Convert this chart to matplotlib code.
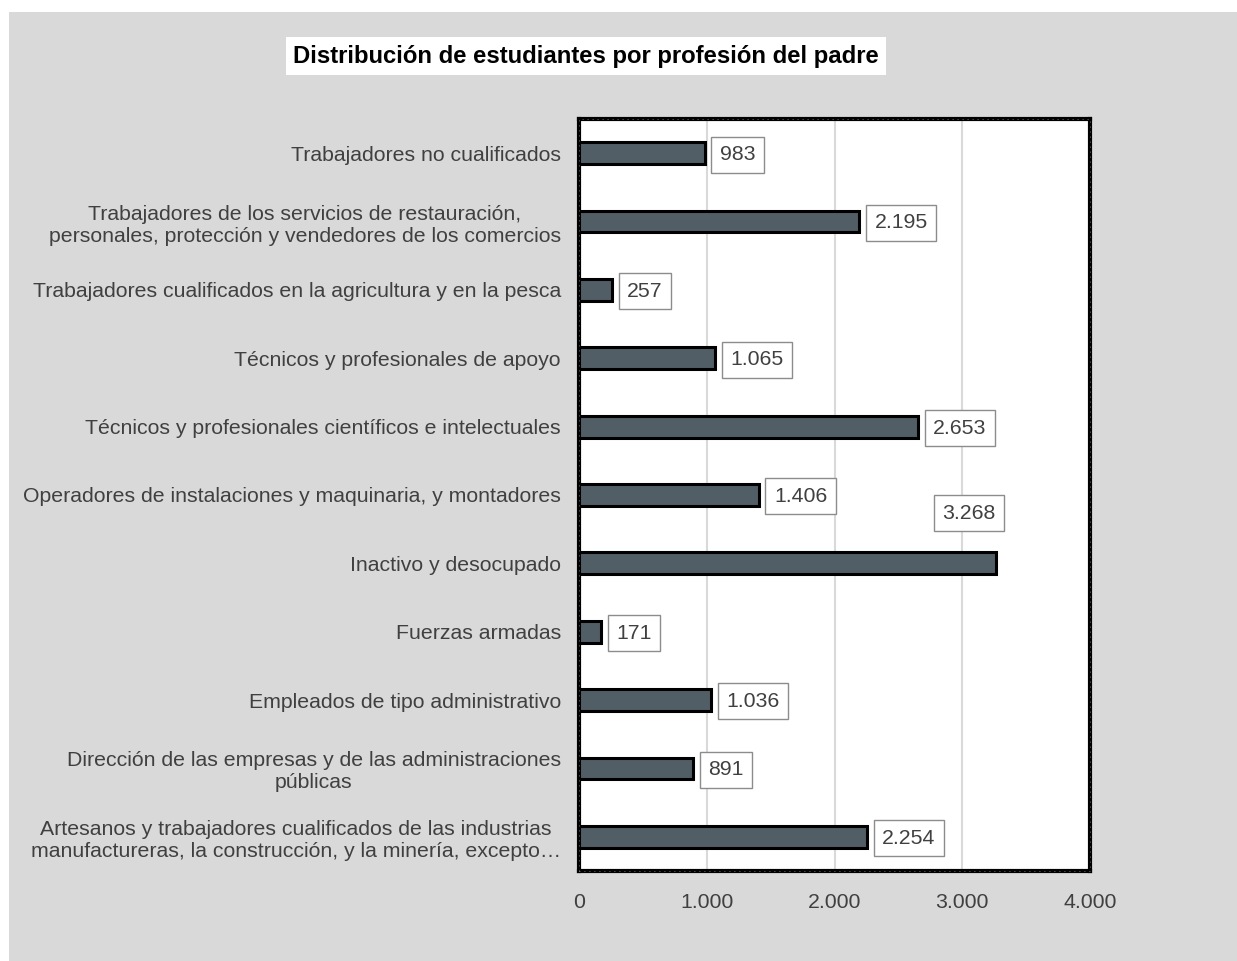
import matplotlib
matplotlib.use('Agg')
import matplotlib.pyplot as plt
from matplotlib.patches import Rectangle

# Data (bottom to top, as drawn)
categories = [
    'Artesanos y trabajadores cualificados de las industrias\nmanufactureras, la construcción, y la minería, excepto…',
    'Dirección de las empresas y de las administraciones\npúblicas',
    'Empleados de tipo administrativo',
    'Fuerzas armadas',
    'Inactivo y desocupado',
    'Operadores de instalaciones y maquinaria, y montadores',
    'Técnicos y profesionales científicos e intelectuales',
    'Técnicos y profesionales de apoyo',
    'Trabajadores cualificados en la agricultura y en la pesca',
    'Trabajadores de los servicios de restauración,\npersonales, protección y vendedores de los comercios',
    'Trabajadores no cualificados',
]
values = [2254, 891, 1036, 171, 3268, 1406, 2653, 1065, 257, 2195, 983]
x_ticks = [0, 1000, 2000, 3000, 4000]

plt.rcParams['font.family'] = ['Liberation Sans', 'DejaVu Sans']
text_color = '#404040'
bg = '#d9d9d9'
fs = 15.3

fig = plt.figure(figsize=(12.37, 9.61), dpi=100, facecolor='white')
# gray chart area
fig.patches.append(Rectangle((9 / 1237, 0), 1, 1 - 12 / 961, transform=fig.transFigure,
                             facecolor=bg, edgecolor='none', zorder=-10))

ax = fig.add_axes([579 / 1237, 1 - 871 / 961, (1090 - 579) / 1237, (871 - 119) / 961])
ax.set_facecolor('white')

ypos = list(range(len(categories)))
ax.barh(ypos, values, height=0.32, color='#525e66', edgecolor='black',
        linewidth=2.2, zorder=3)

ax.set_xlim(0, 4000)
ax.set_ylim(-0.5, len(categories) - 0.5)
ax.set_xticks(x_ticks)
ax.set_xticklabels([f'{v:,}'.replace(',', '.') for v in x_ticks])
ax.set_yticks(ypos)
ax.set_yticklabels(categories)
ax.tick_params(axis='both', length=0, labelsize=fs, colors=text_color)
ax.tick_params(axis='y', pad=13)
ax.tick_params(axis='x', pad=16)
for lab in ax.get_yticklabels():
    lab.set_horizontalalignment('right')
    lab.set_multialignment('center')

ax.xaxis.grid(True, color='#d9d9d9', linewidth=1.5, zorder=0)
ax.set_axisbelow(True)

for s in ax.spines.values():
    s.set_linewidth(3)
    s.set_color('black')
# dotted pattern on the frame
ax.add_patch(Rectangle((0, 0), 1, 1, transform=ax.transAxes, fill=False,
                       edgecolor='#9a9a9a', linewidth=0.6, linestyle=(0, (1, 5)),
                       clip_on=False, zorder=6))

box = dict(boxstyle='square,pad=0.4', facecolor='white', edgecolor='#8c8c8c', linewidth=1)
for y, v in zip(ypos, values):
    label = f'{v:,}'.replace(',', '.')
    if v == max(values):
        ax.annotate(label, xy=(v, y), xytext=(-20, 36), textcoords='offset points',
                    ha='center', va='center', fontsize=fs, color=text_color,
                    bbox=box, zorder=5)
    else:
        ax.annotate(label, xy=(v, y), xytext=(11, -1), textcoords='offset points',
                    ha='left', va='center', fontsize=fs, color=text_color,
                    bbox=box, zorder=5)

fig.text(586 / 1237, 1 - 56 / 961, 'Distribución de estudiantes por profesión del padre',
         ha='center', va='center', fontsize=17.2, fontweight='bold', color='black',
         bbox=dict(boxstyle='square,pad=0.3', facecolor='white', edgecolor='none'))

fig.savefig('out.png', dpi=100, facecolor=fig.get_facecolor())
